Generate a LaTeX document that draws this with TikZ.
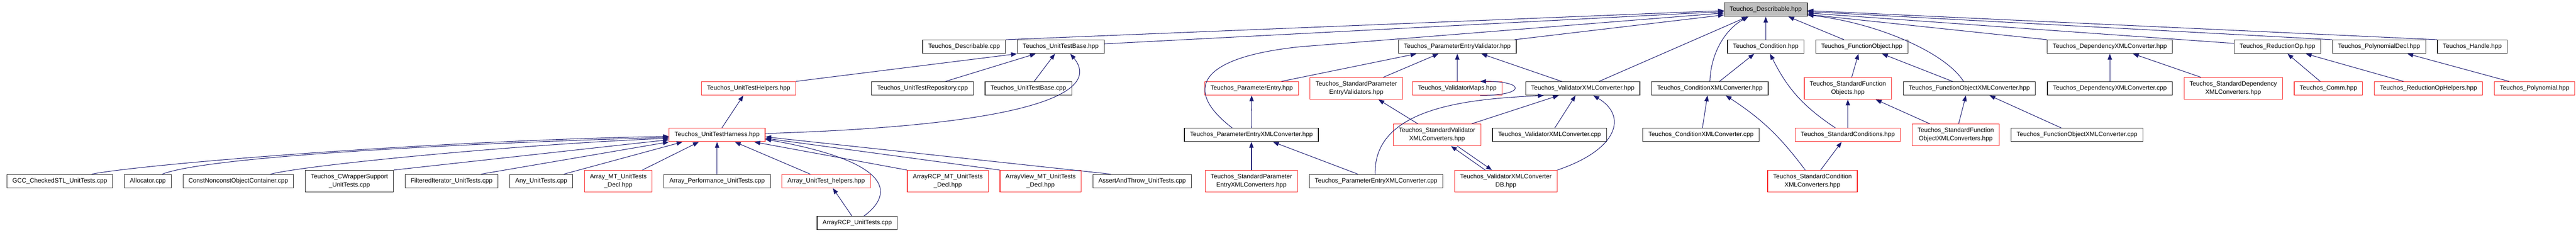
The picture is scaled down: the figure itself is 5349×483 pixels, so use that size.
\documentclass[tikz,border=0pt]{standalone}
\usepackage{fontspec}
\setmainfont{Liberation Sans}
\usetikzlibrary{arrows.meta, positioning}
\definecolor{edgeblue}{RGB}{25,25,112}
\definecolor{truncred}{RGB}{250,45,45}
\definecolor{rootgray}{RGB}{191,191,191}
\tikzset{%
>={Triangle[width=9pt,length=12pt]},
  % Specifications for style of nodes:
            filebox/.style = {rectangle, draw=black!85, line width=1.3pt,
                            fill=white, minimum height=28pt, inner xsep=11.5pt,
                            inner ysep=3pt, align=center,
                            font=\fontsize{13}{17}\selectfont},
            redbox/.style = {filebox, draw=truncred},
            rootbox/.style = {filebox, fill=rootgray},
            twoline/.style = {minimum height=45pt},
            incl/.style = {->, draw=edgeblue, line width=1.1pt}
}
\begin{document}
\begin{tikzpicture}[x=1pt, y=1pt, node distance=23pt]
                        \useasboundingbox (0,0) rectangle (5349,-483);
                        % row 0
                        \node[rootbox] (root) at (3666.5,-20) {Teuchos\_Describable.hpp};
                        % row 1
                        \node[filebox] (desccpp) at (2002,-97) {Teuchos\_Describable.cpp};
                        \node[filebox] (utbasehpp)[right=of desccpp] {Teuchos\_UnitTestBase.hpp};
                        \node[filebox] (pevalid) at (3026,-97) {Teuchos\_ParameterEntryValidator.hpp};
                        \node[filebox] (cond) at (3666.5,-97) {Teuchos\_Condition.hpp};
                        \node[filebox] (funcobj)[right=of cond] {Teuchos\_FunctionObject.hpp};
                        \node[filebox] (depxmlhpp) at (4381,-97) {Teuchos\_DependencyXMLConverter.hpp};
                        \node[filebox] (redop) at (4729,-97) {Teuchos\_ReductionOp.hpp};
                        \node[filebox] (polydecl)[right=of redop] {Teuchos\_PolynomialDecl.hpp};
                        \node[filebox] (handle)[right=of polydecl] {Teuchos\_Handle.hpp};
                        % row 2
                        \node[redbox] (uthelpers) at (1554.5,-183.5) {Teuchos\_UnitTestHelpers.hpp};
                        \node[filebox] (utrepo) at (1915.5,-183.5) {Teuchos\_UnitTestRepository.cpp};
                        \node[filebox] (utbasecpp)[right=of utrepo] {Teuchos\_UnitTestBase.cpp};
                        \node[redbox] (pentry) at (2599,-183.5) {Teuchos\_ParameterEntry.hpp};
                        \node[redbox, twoline] (stdpev)[right=of pentry] {Teuchos\_StandardParameter\\EntryValidators.hpp};
                        \node[redbox] (valmaps) at (3026,-183.5) {Teuchos\_ValidatorMaps.hpp};
                        \node[filebox] (valxmlhpp) at (3286.5,-183.5) {Teuchos\_ValidatorXMLConverter.hpp};
                        \node[filebox] (condxmlhpp)[right=of valxmlhpp] {Teuchos\_ConditionXMLConverter.hpp};
                        \node[redbox, twoline] (stdfuncobj) at (3837,-183.5) {Teuchos\_StandardFunction\\Objects.hpp};
                        \node[filebox] (foxmlhpp)[right=of stdfuncobj] {Teuchos\_FunctionObjectXMLConverter.hpp};
                        \node[filebox] (depxmlcpp) at (4381,-183.5) {Teuchos\_DependencyXMLConverter.cpp};
                        \node[redbox, twoline] (stddepxml)[right=of depxmlcpp] {Teuchos\_StandardDependency\\XMLConverters.hpp};
                        \node[redbox] (comm)[right=of stddepxml] {Teuchos\_Comm.hpp};
                        \node[redbox] (redophelp)[right=of comm] {Teuchos\_ReductionOpHelpers.hpp};
                        \node[redbox] (poly)[right=of redophelp] {Teuchos\_Polynomial.hpp};
                        % row 3
                        \node[redbox] (harness) at (1489,-280) {Teuchos\_UnitTestHarness.hpp};
                        \node[filebox] (pexmlhpp) at (2598.5,-280) {Teuchos\_ParameterEntryXMLConverter.hpp};
                        \node[redbox, twoline] (stdvalxml) at (2984,-280) {Teuchos\_StandardValidator\\XMLConverters.hpp};
                        \node[filebox] (valxmlcpp)[right=of stdvalxml] {Teuchos\_ValidatorXMLConverter.cpp};
                        \node[filebox] (condxmlcpp) at (3532,-280) {Teuchos\_ConditionXMLConverter.cpp};
                        \node[redbox] (stdcond) at (3837,-280) {Teuchos\_StandardConditions.hpp};
                        \node[redbox, twoline] (stdfoxml)[right=of stdcond] {Teuchos\_StandardFunction\\ObjectXMLConverters.hpp};
                        \node[filebox] (foxmlcpp)[right=of stdfoxml] {Teuchos\_FunctionObjectXMLConverter.cpp};
                        % row 4
                        \node[filebox] (arrayperf) at (1489,-376) {Array\_Performance\_UnitTests.cpp};
                        \node[redbox, twoline] (arraymt)[left=of arrayperf] {Array\_MT\_UnitTests\\\_Decl.hpp};
                        \node[filebox] (anyut)[left=of arraymt] {Any\_UnitTests.cpp};
                        \node[filebox] (filtered)[left=of anyut] {FilteredIterator\_UnitTests.cpp};
                        \node[filebox, twoline] (cwrapper)[left=of filtered] {Teuchos\_CWrapperSupport\\\_UnitTests.cpp};
                        \node[filebox] (constobj)[left=of cwrapper] {ConstNonconstObjectContainer.cpp};
                        \node[filebox] (alloc)[left=of constobj] {Allocator.cpp};
                        \node[filebox] (gcc)[left=of alloc] {GCC\_CheckedSTL\_UnitTests.cpp};
                        \node[redbox] (arrayuth)[right=of arrayperf] {Array\_UnitTest\_helpers.hpp};
                        \node[redbox, twoline] (arrayrcpmt) at (1968,-376) {ArrayRCP\_MT\_UnitTests\\\_Decl.hpp};
                        \node[redbox, twoline] (arrayviewmt)[right=of arrayrcpmt] {ArrayView\_MT\_UnitTests\\\_Decl.hpp};
                        \node[filebox] (assertut)[right=of arrayviewmt] {AssertAndThrow\_UnitTests.cpp};
                        \node[redbox, twoline] (stdpexml) at (2598.5,-376) {Teuchos\_StandardParameter\\EntryXMLConverters.hpp};
                        \node[filebox] (pexmlcpp)[right=of stdpexml] {Teuchos\_ParameterEntryXMLConverter.cpp};
                        \node[redbox, twoline] (valxmldb)[right=of pexmlcpp] {Teuchos\_ValidatorXMLConverter\\DB.hpp};
                        \node[redbox, twoline] (stdcondxml) at (3763.5,-376) {Teuchos\_StandardCondition\\XMLConverters.hpp};
                        % row 5
                        \node[filebox] (arrayrcput) at (1780,-463) {ArrayRCP\_UnitTests.cpp};

                        % into the unit test harness
                        \draw[incl] ([xshift=66pt]gcc.north) .. controls +(117,22) and +(-487,-9) .. ([yshift=-3pt]harness.west);
                        \draw[incl] ([xshift=30pt]alloc.north) .. controls +(90,35) and +(-480,-14) .. ([yshift=-5pt]harness.west);
                        \draw[incl] ([xshift=67pt]constobj.north) .. controls +(80,20) and +(-300,-12) .. ([yshift=-7pt]harness.west);
                        \draw[incl] (cwrapper.north east) -- ([yshift=-10pt]harness.west);
                        \draw[incl] ([xshift=61pt]filtered.north) -- (harness.south west);
                        \draw[incl] ([xshift=47pt]anyut.north) -- ([xshift=-72pt]harness.south);
                        \draw[incl] ([xshift=50pt]arraymt.north) -- ([xshift=-38pt]harness.south);
                        \draw[incl] (arrayperf.north) -- (harness.south);
                        \draw[incl] ([xshift=-33pt]arrayuth.north) -- ([xshift=37pt]harness.south);
                        \draw[incl] (arrayrcpmt.north west) -- ([xshift=-23pt]harness.south east);
                        \draw[incl] (arrayviewmt.north west) -- ([yshift=-7pt]harness.east);
                        \draw[incl] ([xshift=-65pt]assertut.north) -- ([yshift=-4pt]harness.east);
                        \draw[incl] ([xshift=14pt]arrayrcput.north) .. controls +(66,49) and +(259,-46) .. ([yshift=-9pt]harness.east);
                        \draw[incl] ([xshift=-11pt]arrayrcput.north) -- ([xshift=14pt]arrayuth.south);
                        % unit test base
                        \draw[incl] ([xshift=10pt]harness.north) -- ([xshift=-11pt]uthelpers.south);
                        \draw[incl] ([yshift=3pt]harness.east) .. controls +(559,17) and +(65,-79) .. ([xshift=20pt]utbasehpp.south);
                        \draw[incl] (uthelpers.north east) -- (utbasehpp.south west);
                        \draw[incl] ([xshift=48pt]utrepo.north) -- ([xshift=-52pt]utbasehpp.south);
                        \draw[incl] ([xshift=12pt]utbasecpp.north) -- ([xshift=-12pt]utbasehpp.south);
                        % into the root, left side
                        \draw[incl] (desccpp.north east) -- ([yshift=-2pt]root.west);
                        \draw[incl] ([yshift=6pt]utbasehpp.east) -- ([yshift=-4pt]root.west);
                        \draw[incl] ([xshift=-40pt]pexmlhpp.north) .. controls (2460,-190) and (2480,-120) .. (2700,-97) -- ([yshift=-7pt]root.west);
                        \draw[incl] ([xshift=-4pt]pevalid.north east) -- ([yshift=-11pt]root.west);
                        % parameter entries and validators
                        \draw[incl] ([xshift=62pt]pentry.north) -- ([xshift=38pt]pevalid.south west);
                        \draw[incl] (pexmlhpp.north) -- (pentry.south);
                        \draw[incl] (stdpexml.north) -- (pexmlhpp.south);
                        \draw[incl] ([xshift=-38pt]pexmlcpp.north) -- ([xshift=45pt]pexmlhpp.south);
                        \draw[incl] ([xshift=-2pt]pexmlcpp.north) .. controls +(-4,142) and +(-145,-7) .. ([xshift=-81pt]valxmlhpp.south);
                        \draw[incl] ([xshift=56pt]stdpev.north) -- ([xshift=-39pt]pevalid.south);
                        \draw[incl] (valmaps.north) -- (pevalid.south);
                        \draw[incl] ([xshift=-46pt]valmaps.south east) .. controls +(95,0) and +(95,0) .. ([xshift=-46pt]valmaps.north east);
                        \draw[incl] ([xshift=-44pt]valxmlhpp.north) -- ([xshift=50pt]pevalid.south);
                        \draw[incl] ([xshift=-40pt]stdvalxml.north) -- ([xshift=46pt]stdpev.south);
                        \draw[incl] ([xshift=72pt]stdvalxml.north) -- ([xshift=-50pt]valxmlhpp.south);
                        \draw[incl] ([xshift=11pt]valxmlcpp.north) -- ([xshift=-15pt]valxmlhpp.south);
                        \draw[incl] (valxmldb.north east) .. controls +(127,43) and +(71,-42) .. ([xshift=22pt]valxmlhpp.south);
                        \draw[incl] ([xshift=-43pt]valxmldb.north) -- ([xshift=29pt]stdvalxml.south);
                        \draw[incl] ([xshift=42pt]stdvalxml.south) -- ([xshift=-29pt]valxmldb.north);
                        % into the root, from below
                        \draw[incl] ([xshift=34pt]valxmlhpp.north) -- ([xshift=-38pt]root.south);
                        \draw[incl] (condxmlhpp.north) .. controls +(2,59) and +(-48,-26) .. ([xshift=-36pt]root.south);
                        \draw[incl] (cond.north) -- (root.south);
                        \draw[incl] ([xshift=-37pt]funcobj.north) -- ([xshift=47pt]root.south);
                        % conditions and function objects
                        \draw[incl] ([xshift=20pt]condxmlhpp.north) -- ([xshift=-24pt]cond.south);
                        \draw[incl] ([xshift=3pt]condxmlcpp.north) -- ([xshift=-5pt]condxmlhpp.south);
                        \draw[incl] ([xshift=-15pt]stdcondxml.north) to[bend right=10] ([xshift=33pt]condxmlhpp.south);
                        \draw[incl] ([xshift=17pt]stdcondxml.north) -- ([xshift=-13pt]stdcond.south);
                        \draw[incl] ([xshift=-26pt]stdcond.north) to[bend left=15] ([xshift=9pt]cond.south);
                        \draw[incl] (stdcond.north) -- (stdfuncobj.south);
                        \draw[incl] ([xshift=8pt]stdfuncobj.north) -- ([xshift=-7pt]funcobj.south);
                        \draw[incl] ([xshift=-35pt]foxmlhpp.north) -- ([xshift=42pt]funcobj.south);
                        \draw[incl] ([xshift=-54pt]stdfoxml.north) -- ([xshift=58pt]stdfuncobj.south);
                        \draw[incl] ([xshift=6pt]stdfoxml.north) -- ([xshift=-7pt]foxmlhpp.south);
                        \draw[incl] ([xshift=-33pt]foxmlcpp.north) -- ([xshift=42pt]foxmlhpp.south);
                        % into the root, right side
                        \draw[incl] ([xshift=-12pt]foxmlhpp.north) .. controls +(-37,59) and +(147,-17) .. ([yshift=-11pt]root.east);
                        \draw[incl] (depxmlhpp.north west) -- ([yshift=-10pt]root.east);
                        \draw[incl] ([yshift=7pt]redop.west) -- ([yshift=-7pt]root.east);
                        \draw[incl] (polydecl.north west) -- ([yshift=-4pt]root.east);
                        \draw[incl] (handle.north west) -- ([yshift=-2pt]root.east);
                        % dependencies, reductions, polynomials
                        \draw[incl] (depxmlcpp.north) -- (depxmlhpp.south);
                        \draw[incl] ([xshift=-67pt]stddepxml.north) -- ([xshift=48pt]depxmlhpp.south);
                        \draw[incl] ([xshift=-17pt]comm.north) -- ([xshift=21pt]redop.south);
                        \draw[incl] ([xshift=-52pt]redophelp.north) -- ([xshift=59pt]redop.south);
                        \draw[incl] ([xshift=-53pt]poly.north) -- ([xshift=59pt]polydecl.south);
                    \end{tikzpicture}
\end{document}
